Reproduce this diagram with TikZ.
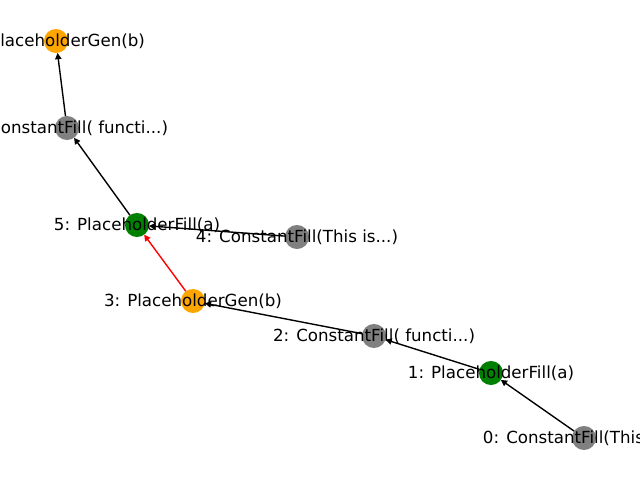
\documentclass[tikz,border=0pt]{standalone}
\usepackage{fontspec}
\setmainfont{DejaVu Sans}
\usetikzlibrary{arrows.meta}
\definecolor{ngray}{HTML}{808080}
\definecolor{ngreen}{HTML}{008000}
\definecolor{norange}{HTML}{FFA500}
\definecolor{nred}{HTML}{FF0000}
\begin{document}
\begin{tikzpicture}[x=0.72pt,y=-0.72pt,
  vert/.style={circle,inner sep=0pt,outer sep=0pt,minimum size=17.32pt,draw=none},
  gv/.style={vert,fill=ngray},
  grv/.style={vert,fill=ngreen},
  ov/.style={vert,fill=norange},
  lbl/.style={inner sep=0pt,font=\fontsize{12pt}{14pt}\selectfont,text=black},
  edge/.style={line width=1pt,draw=black,-{Triangle[length=4.5pt,width=4.5pt]}},
  redge/.style={edge,draw=nred,-{Triangle[length=4.5pt,width=4.5pt,fill=nred]}}]
\useasboundingbox (0,0) rectangle (640,480);
\clip (0,0) rectangle (640,480);
\node[gv]  (n0) at (584,438) {};
\node[grv] (n1) at (491,373) {};
\node[gv]  (n2) at (374,336) {};
\node[ov]  (n3) at (193,301) {};
\node[gv]  (n4) at (297,237) {};
\node[grv] (n5) at (137,225) {};
\node[gv]  (n6) at (67,128) {};
\node[ov]  (n7) at (56,41) {};
\draw[edge] (n0) -- (n1);
\draw[edge] (n1) -- (n2);
\draw[edge] (n2) -- (n3);
\draw[redge] (n3) -- (n5);
\draw[edge] (n4) -- (n5);
\draw[edge] (n5) -- (n6);
\draw[edge] (n6) -- (n7);
\node[lbl] (l0) at (n0.center) {0: ConstantFill(This is...)};
\node[lbl] (l1) at (n1.center) {1: PlaceholderFill(a)};
\node[lbl] (l2) at (n2.center) {2: ConstantFill( functi...)};
\node[lbl] (l3) at (n3.center) {3: PlaceholderGen(b)};
\node[lbl] (l4) at (n4.center) {4: ConstantFill(This is...)};
\node[lbl] (l5) at (n5.center) {5: PlaceholderFill(a)};
\node[lbl] (l6) at (n6.center) {6: ConstantFill( functi...)};
\node[lbl] (l7) at (n7.center) {7: PlaceholderGen(b)};
\end{tikzpicture}
\end{document}
